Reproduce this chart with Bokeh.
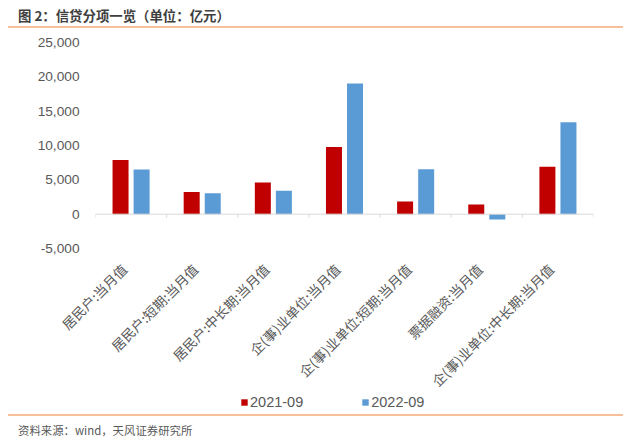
import numpy as np
from bokeh.plotting import figure
from bokeh.models import (Range1d, FixedTicker, NumeralTickFormatter, Span, Legend, LegendItem, Div)
from bokeh.layouts import column
from bokeh.embed import file_html
from bokeh.resources import INLINE

# ---- data ----
categories = ["居民户:当月值", "居民户:短期:当月值", "居民户:中长期:当月值",
              "企(事)业单位:当月值", "企(事)业单位:短期:当月值", "票据融资:当月值",
              "企(事)业单位:中长期:当月值"]
series_names = ["2021-09", "2022-09"]
v2021 = [7900, 3220, 4620, 9780, 1830, 1400, 6890]
v2022 = [6500, 3030, 3420, 19030, 6550, -770, 13400]
y_ticks = [-5000, 0, 5000, 10000, 15000, 20000, 25000]
title_text = "图 2：信贷分项一览（单位：亿元）"
source_text = "资料来源：wind，天风证券研究所"

RED = "#C00000"
BLUE = "#5B9BD5"
GRAY = "#595959"
ORANGE = "#F7C09A"
CJK = "Noto Sans CJK SC"
LAT = "Liberation Sans"

# ---- title block ----
title_div = Div(text=title_text, width=615, height=14, margin=(8, 0, 0, 18),
                styles={"font-family": f"'{CJK}'", "font-size": "13.4px", "font-weight": "bold",
                        "color": "#3F3F3F", "line-height": "14px", "white-space": "nowrap"})
rule_top = Div(text="", width=615, height=2, margin=(4, 0, 0, 8),
               styles={"background-color": ORANGE})

# ---- main chart ----
n = len(categories)
centers = [i + 0.5 for i in range(n)]
x_red = [c - 0.148 for c in centers]
x_blue = [c + 0.148 for c in centers]
label_pos = [c - 0.1 for c in centers]   # rotated labels end just left of the group centre

p = figure(width=640, frame_width=498, frame_height=206,
           x_range=Range1d(0, n), y_range=Range1d(y_ticks[0], y_ticks[-1]),
           toolbar_location=None, output_backend="svg",
           min_border_left=95, min_border_right=47, min_border_top=14, min_border_bottom=150,
           outline_line_color=None, margin=0)
p.grid.visible = False

r1 = p.vbar(x=x_red, top=v2021, width=0.225, fill_color=RED, line_color=None)
r2 = p.vbar(x=x_blue, top=v2022, width=0.225, fill_color=BLUE, line_color=None)

p.add_layout(Span(location=0, dimension="width", line_color="#D9D9D9", line_width=1))
bounds = list(range(n + 1))
p.segment(x0=bounds, x1=bounds, y0=[0] * len(bounds), y1=[-520] * len(bounds),
          line_color="#D9D9D9", line_width=1)

xa = p.xaxis[0]
xa.ticker = FixedTicker(ticks=label_pos)
xa.major_label_overrides = {c: lab for c, lab in zip(label_pos, categories)}
xa.major_label_orientation = 0.785398
xa.major_label_text_font = CJK
xa.major_label_text_font_size = "13.5px"
xa.major_label_text_color = GRAY
xa.major_label_standoff = 18
xa.axis_line_color = None
xa.major_tick_line_color = None
xa.minor_tick_line_color = None
xa.major_tick_out = 0
xa.major_tick_in = 0

ya = p.yaxis[0]
ya.ticker = FixedTicker(ticks=y_ticks)
ya.formatter = NumeralTickFormatter(format="0,0")
ya.major_label_text_font = LAT
ya.major_label_text_font_size = "13.7px"
ya.major_label_text_color = GRAY
ya.major_label_standoff = 16
ya.axis_line_color = None
ya.major_tick_line_color = None
ya.minor_tick_line_color = None
ya.major_tick_out = 0
ya.major_tick_in = 0

# ---- legend strip (key only; the bars above carry the data) ----
lg = figure(width=640, height=18, x_range=Range1d(0, 1), y_range=Range1d(0, 1),
            x_axis_type=None, y_axis_type=None, toolbar_location=None, output_backend="svg",
            min_border_left=95, min_border_right=47, min_border_top=0, min_border_bottom=0,
            outline_line_color=None, margin=(-8, 0, 0, 0),
            background_fill_alpha=0, border_fill_alpha=0)
lg.grid.visible = False
k1 = lg.vbar(x=np.array([np.nan]), top=np.array([np.nan]), width=0.2, fill_color=RED, line_color=None)
k2 = lg.vbar(x=np.array([np.nan]), top=np.array([np.nan]), width=0.2, fill_color=BLUE, line_color=None)
legend = Legend(items=[LegendItem(label=series_names[0], renderers=[k1]),
                       LegendItem(label=series_names[1], renderers=[k2])],
                orientation="horizontal", location=(145, 0),
                glyph_width=8, glyph_height=8, label_standoff=2, spacing=58,
                padding=0, margin=0, border_line_color=None, background_fill_alpha=0,
                label_text_font=LAT, label_text_font_size="14.5px", label_text_color=GRAY,
                label_height=14)
lg.add_layout(legend)

# ---- footer block ----
rule_bottom = Div(text="", width=615, height=2, margin=(4, 0, 0, 8),
                  styles={"background-color": ORANGE})
footer_div = Div(text=source_text, width=615, height=14, margin=(7, 0, 0, 18),
                 styles={"font-family": f"'{CJK}'", "font-size": "11.4px", "color": GRAY,
                         "line-height": "14px", "white-space": "nowrap"})

layout = column(title_div, rule_top, p, lg, rule_bottom, footer_div, spacing=0)
open("out.html", "w").write(file_html(layout, INLINE))
